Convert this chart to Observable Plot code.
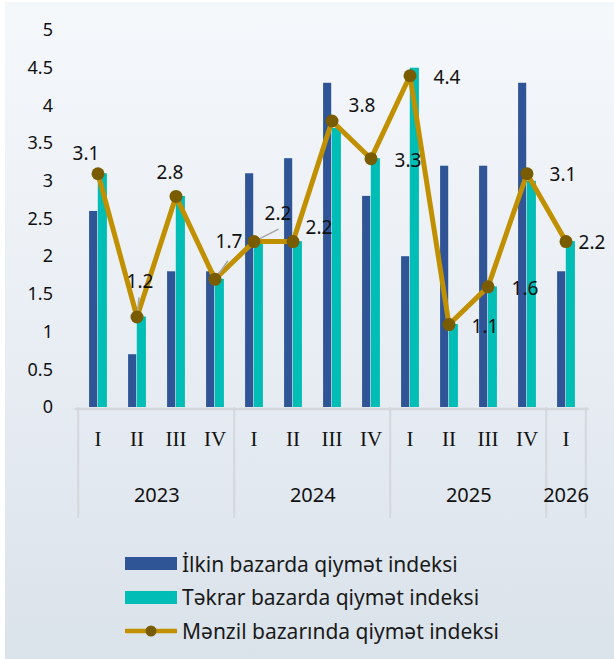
<!DOCTYPE html>
<html>
<head>
<meta charset="utf-8">
<script src="https://cdn.jsdelivr.net/npm/d3@7"></script>
<script src="https://cdn.jsdelivr.net/npm/@observablehq/plot@0.6"></script>
<style>
  html, body { margin: 0; padding: 0; }
  body { width: 614px; height: 659px; overflow: hidden; }
  #wrap {
    position: relative; width: 609px; height: 657px;
    border-left: 5px solid #ffffff; border-top: 2px solid #ffffff;
    background: linear-gradient(to bottom, #f5f8fb 0%, #e9eef4 50%, #dae2ea 100%);
    font-family: "Noto Sans", sans-serif;
  }
  #chart { position: absolute; left: -5px; top: -2px; }
  #legend { position: absolute; left: 120px; top: 545px; }
  .row { display: flex; align-items: center; height: 33.5px; }
  .sw { width: 52px; height: 13px; margin-right: 5px; }
  .lab { font-size: 21px; color: #1a1a1a; white-space: nowrap; }
</style>
</head>
<body>
<div id="wrap">
  <div id="chart"></div>
  <div id="legend"></div>
</div>
<script>
const years = ["2023","2023","2023","2023","2024","2024","2024","2024","2025","2025","2025","2025","2026"];
const quarters = ["I","II","III","IV","I","II","III","IV","I","II","III","IV","I"];
const ilkin  = [2.6, 0.7, 1.8, 1.8, 3.1, 3.3, 4.3, 2.8, 2.0, 3.2, 3.2, 4.3, 1.8];
const tekrar = [3.1, 1.2, 2.8, 1.7, 2.2, 2.2, 3.7, 3.3, 4.5, 1.1, 1.6, 3.0, 2.2];
const menzil = [3.1, 1.2, 2.8, 1.7, 2.2, 2.2, 3.8, 3.3, 4.4, 1.1, 1.6, 3.1, 2.2];
const yTicks = [0, 0.5, 1, 1.5, 2, 2.5, 3, 3.5, 4, 4.5, 5];
const seriesNames = ["İlkin bazarda qiymət indeksi", "Təkrar bazarda qiymət indeksi", "Mənzil bazarında qiymət indeksi"];

// label placement (pixel offsets) and leader lines: styling only
const labelOffsets = [[-12,-20],[3,-35],[-6,-23],[14,-37],[24,-28],[26,-14],[30,-15],[37,2],[37,2],[36,2],[37,2],[36,1],[26,1]];
const leaders = [{i:1, len:19, rot:6},{i:3, len:22, rot:35},{i:4, len:27, rot:63}];

const keys = years.map((y, i) => y + "-" + quarters[i]);
const rows = keys.map((k, i) => ({key: k, year: years[i], q: quarters[i], a: ilkin[i], b: tekrar[i], m: menzil[i], i}));

const C_BLUE = "#2f5597", C_TEAL = "#00bdb5", C_GOLD = "#c09000", C_DOT = "#7a5c00";

const W = 614, H = 530, mL = 74.5, mR = 25, mT = 30, mB = 123;
const step = (W - mL - mR) / keys.length;
const half = step / 2;

const yearList = [...new Set(years)];
const groups = yearList.map(y => {
  const idx = years.map((v, i) => v === y ? i : -1).filter(i => i >= 0);
  return {year: y, first: keys[idx[0]], last: keys[idx[idx.length - 1]], mid: keys[idx[0] + Math.floor((idx.length - 1) / 2)], even: idx.length % 2 === 0};
});

const labelMarks = rows.map((r, i) => Plot.text([r], {
  x: "key", y: "m", text: d => String(d.m),
  dx: labelOffsets[i][0], dy: labelOffsets[i][1],
  fontSize: 19, fill: "#111", fontFamily: "Noto Sans"
}));
const yearMarks = groups.map(g => Plot.text([g], {
  x: "mid", text: "year", frameAnchor: "bottom", dy: 94, dx: g.even ? half : 0,
  fontSize: 20, fill: "#111", fontFamily: "Noto Sans"
}));
const leaderShape = { draw(context, l) { context.moveTo(0, 0); context.lineTo(0, -l); } };

const chart = Plot.plot({
  width: W, height: H,
  marginLeft: mL, marginRight: mR, marginTop: mT, marginBottom: mB,
  style: { background: "transparent", fontFamily: "Noto Sans", overflow: "visible" },
  x: { type: "band", domain: keys, padding: 0, axis: null },
  y: { domain: [0, 5], axis: null },
  length: { type: "identity" },
  marks: [
    Plot.axisY({ ticks: yTicks, tickFormat: d => String(d), tickSize: 0, tickPadding: 22, fontSize: 18, fill: "#111", label: null }),
    Plot.barY(rows, { x: "key", y: "a", fill: C_BLUE, insetLeft: half - 8.7, insetRight: half }),
    Plot.barY(rows, { x: "key", y: "b", fill: C_TEAL, insetLeft: half, insetRight: half - 9.7 }),
    Plot.ruleY([0], { stroke: "#d4d7db", strokeWidth: 2.5, dy: 1.5 }),
    Plot.ruleX(groups, { x: "first", dx: -half, stroke: "#d4d7db", strokeWidth: 2, insetTop: H - mT - mB, insetBottom: -111 }),
    Plot.ruleX([groups[groups.length - 1]], { x: "last", dx: half, stroke: "#d4d7db", strokeWidth: 2, insetTop: H - mT - mB, insetBottom: -111 }),
    Plot.text(rows, { x: "key", text: "q", frameAnchor: "bottom", dy: 38, fontSize: 21, fontFamily: "Liberation Serif", fill: "#111" }),
    ...yearMarks,
    Plot.line(rows, { x: "key", y: "m", stroke: C_GOLD, strokeWidth: 5 }),
    Plot.vector(leaders.map(l => ({...rows[l.i], len: l.len, rot: l.rot})), { x: "key", y: "m", length: "len", rotate: "rot", anchor: "start", shape: leaderShape, stroke: "#a8a8a8", strokeWidth: 1.6 }),
    Plot.dot(rows, { x: "key", y: "m", r: 6.5, fill: C_DOT, stroke: "none" }),
    ...labelMarks
  ]
});
document.getElementById("chart").appendChild(chart);

const legend = document.getElementById("legend");
const sw = [
  `<div class="sw" style="background:${C_BLUE}"></div>`,
  `<div class="sw" style="background:${C_TEAL}"></div>`,
  `<svg width="52" height="14" style="margin-right:5px"><line x1="1" x2="51" y1="7" y2="7" stroke="${C_GOLD}" stroke-width="4.5" stroke-linecap="round"/><circle cx="26" cy="7" r="5.5" fill="${C_DOT}"/></svg>`
];
legend.innerHTML = seriesNames.map((n, i) => `<div class="row">${sw[i]}<span class="lab">${n}</span></div>`).join("");
</script>
</body>
</html>
